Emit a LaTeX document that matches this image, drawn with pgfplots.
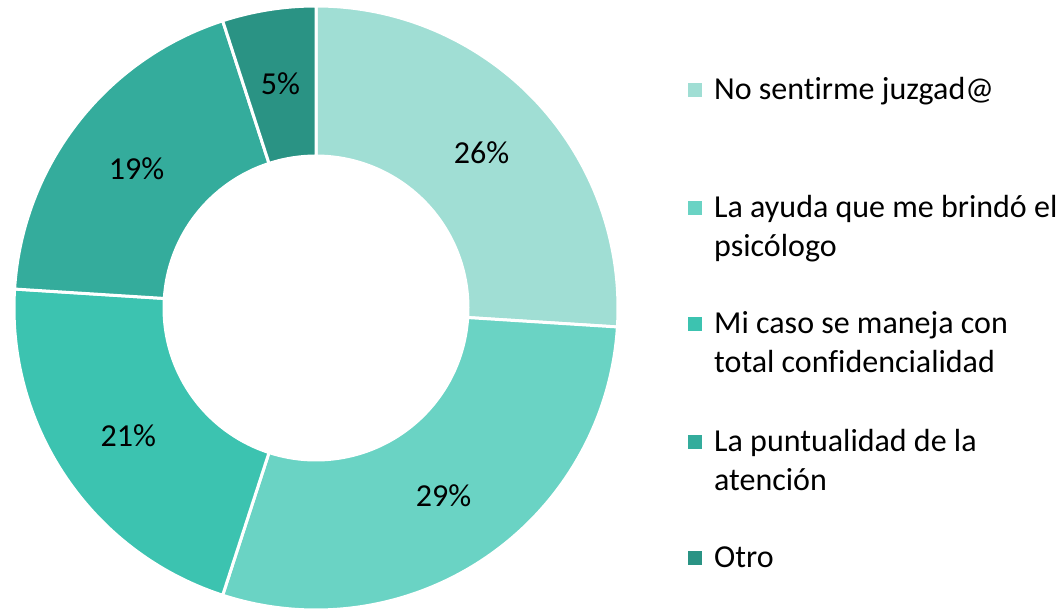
\documentclass[border=0pt]{standalone}
\usepackage{pgfplots}
\pgfplotsset{compat=1.18}
\usepackage{pgfplotstable}
\usepackage{fontspec}
\setmainfont{Carlito}[Ligatures={NoCommon}]
\definecolor{c0}{HTML}{A0DED4}
\definecolor{c1}{HTML}{6AD3C4}
\definecolor{c2}{HTML}{3CC3B0}
\definecolor{c3}{HTML}{34AC9C}
\definecolor{c4}{HTML}{2A9384}
\pgfplotstableread{
value
26
29
21
19
5
}\datatable
\begin{document}
\begin{tikzpicture}
\fontsize{32bp}{39bp}\selectfont
% cumulative angles (clockwise from 90 degrees)
\pgfmathsetmacro\cum{0}
\expandafter\xdef\csname sa0\endcsname{90}
\pgfplotsforeachungrouped \i in {0,...,4}{%
  \pgfplotstablegetelem{\i}{value}\of\datatable
  \expandafter\xdef\csname pv\i\endcsname{\pgfplotsretval}%
  \pgfmathsetmacro\mid{90-3.6*(\cum+\pgfplotsretval/2)}%
  \expandafter\xdef\csname ma\i\endcsname{\mid}%
  \pgfmathsetmacro\cum{\cum+\pgfplotsretval}%
  \pgfmathtruncatemacro\j{\i+1}%
  \pgfmathsetmacro\ang{90-3.6*\cum}%
  \expandafter\xdef\csname sa\j\endcsname{\ang}%
}
\begin{axis}[
  width=1061bp, height=610bp, scale only axis,
  xmin=-316, xmax=745, ymin=-302, ymax=308,
  hide axis, clip=false,
]
\pgfplotsinvokeforeach{0,...,4}{
  \fill[c#1, draw=white, line width=3bp, shift={(axis cs:0,0)}]
    (\csname sa#1\endcsname:302bp)
    arc[start angle=\csname sa#1\endcsname, end angle=\csname sa\the\numexpr#1+1\relax\endcsname, radius=302bp]
    -- (\csname sa\the\numexpr#1+1\relax\endcsname:152bp)
    arc[start angle=\csname sa\the\numexpr#1+1\relax\endcsname, end angle=\csname sa#1\endcsname, radius=152bp]
    -- cycle;
  \node[shift={(axis cs:0,0)}, inner sep=0pt] at (\csname ma#1\endcsname:227bp)
    {\csname pv#1\endcsname\%};
}
% legend
\fill[c0] (axis cs:372,211) rectangle (axis cs:386,225);
\fill[c1] (axis cs:372,92.5) rectangle (axis cs:386,106.5);
\fill[c2] (axis cs:372,-23) rectangle (axis cs:386,-9);
\fill[c3] (axis cs:372,-141) rectangle (axis cs:386,-127);
\fill[c4] (axis cs:372,-257) rectangle (axis cs:386,-243);
\node[anchor=base west, inner sep=0pt] at (axis cs:398,208.5) {No sentirme juzgad@};
\node[anchor=base west, inner sep=0pt] at (axis cs:398,90) {La ayuda que me brindó el};
\node[anchor=base west, inner sep=0pt] at (axis cs:398,51) {psicólogo};
\node[anchor=base west, inner sep=0pt] at (axis cs:398,-25.5) {Mi caso se maneja con};
\node[anchor=base west, inner sep=0pt] at (axis cs:398,-64.5) {total confidencialidad};
\node[anchor=base west, inner sep=0pt] at (axis cs:398,-143.5) {La puntualidad de la};
\node[anchor=base west, inner sep=0pt] at (axis cs:398,-182.5) {atención};
\node[anchor=base west, inner sep=0pt] at (axis cs:398,-259.5) {Otro};
\end{axis}
\pgfresetboundingbox
\useasboundingbox (current axis.south west) rectangle (current axis.north east);
\end{tikzpicture}
\end{document}
